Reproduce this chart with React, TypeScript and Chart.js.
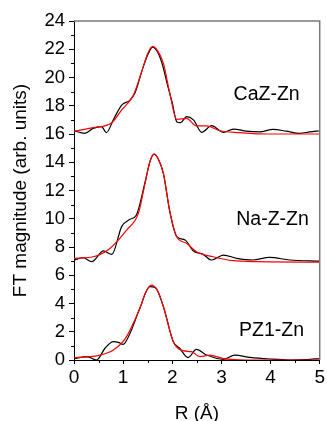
import React, { useEffect, useRef } from 'react';
import { Chart, registerables } from 'chart.js';

Chart.register(...registerables);

// CaZ-Zn
const cazExpX = [0, 0.22, 0.39, 0.56, 0.66, 0.8, 0.97, 1.14, 1.24, 1.41, 1.5, 1.6, 1.7, 1.8, 1.9, 2.0, 2.09, 2.17, 2.29, 2.43, 2.6, 2.8, 3.04, 3.24, 3.51, 3.78, 4.05, 4.32, 4.59, 4.8, 5.0];
const cazExpY = [16.23, 16.05, 16.4, 16.52, 16.1, 17.0, 18.05, 18.4, 18.9, 20.77, 21.6, 22.15, 21.8, 20.9, 19.5, 18.2, 16.87, 16.8, 17.23, 17.0, 16.12, 16.59, 16.12, 16.35, 16.2, 16.15, 16.33, 16.2, 16.05, 16.15, 16.23];
const cazFitX = [0, 0.39, 0.77, 0.97, 1.21, 1.41, 1.5, 1.6, 1.7, 1.82, 1.95, 2.09, 2.29, 2.49, 2.7, 2.97, 3.37, 3.92, 5];
const cazFitY = [16.2, 16.45, 16.8, 17.7, 18.76, 20.77, 21.7, 22.2, 21.9, 21.0, 18.88, 17.04, 17.1, 16.57, 16.57, 16.23, 16.1, 16.0, 16.0];

// Na-Z-Zn
const naExpX = [0, 0.19, 0.36, 0.6, 0.77, 0.97, 1.14, 1.27, 1.44, 1.55, 1.63, 1.72, 1.82, 1.95, 2.09, 2.26, 2.43, 2.63, 2.8, 3.04, 3.31, 3.64, 3.98, 4.39, 5];
const naExpY = [7.08, 7.24, 6.96, 7.72, 7.48, 9.44, 9.96, 10.27, 12.5, 14.1, 14.58, 14.2, 13.2, 10.5, 8.73, 8.5, 7.72, 7.48, 7.08, 7.43, 7.2, 7.08, 7.27, 7.08, 7.0];
const naFitX = [0, 0.39, 0.73, 1.07, 1.31, 1.44, 1.55, 1.63, 1.72, 1.82, 1.95, 2.09, 2.29, 2.49, 2.83, 3.24, 3.78, 5];
const naFitY = [7.2, 7.31, 7.9, 9.2, 10.38, 12.4, 14.1, 14.58, 14.2, 13.2, 10.5, 8.73, 8.26, 7.67, 7.31, 7.03, 6.96, 6.92];

// PZ1-Zn
const pzExpX = [0, 0.26, 0.46, 0.63, 0.8, 0.9, 1.0, 1.14, 1.34, 1.54, 1.65, 1.82, 2.02, 2.15, 2.32, 2.49, 2.7, 3.04, 3.27, 3.58, 3.98, 4.39, 4.73, 5];
const pzExpY = [0.07, 0.24, 0.0, 0.83, 1.3, 1.25, 1.1, 1.89, 3.66, 5.19, 5.14, 3.77, 1.3, 0.83, 0.17, 0.75, 0.35, 0.05, 0.35, 0.19, 0.07, 0.0, 0.03, 0.1];
const pzFitX = [0, 0.53, 0.8, 1.04, 1.34, 1.45, 1.57, 1.7, 1.82, 2.02, 2.22, 2.39, 2.56, 2.76, 3.04, 3.51, 5];
const pzFitY = [0.15, 0.35, 0.71, 1.49, 3.66, 4.7, 5.3, 4.9, 3.77, 1.3, 0.66, 0.59, 0.24, 0.35, 0.1, 0.0, 0.0];

const sampleLabels = ['CaZ-Zn', 'Na-Z-Zn', 'PZ1-Zn'];
const labelX = [3.92, 4.04, 4.02];
const labelY = [18.76, 9.91, 2.05];

const yTicks = [0, 2, 4, 6, 8, 10, 12, 14, 16, 18, 20, 22, 24];
const xTicks = [0, 1, 2, 3, 4, 5];

const FONT = 'Arial, "Liberation Sans", sans-serif';

const pts = (xs: number[], ys: number[]) => xs.map((x, i) => ({ x, y: ys[i] }));

const extrasPlugin = {
  id: 'extras',
  afterDraw(chart: any) {
    const { ctx, chartArea, scales } = chart;
    const xs = scales.x;
    const ys = scales.y;
    ctx.save();
    // top and right frame
    ctx.strokeStyle = '#7a7a7a';
    ctx.lineWidth = 1.5;
    ctx.beginPath();
    ctx.moveTo(chartArea.left, chartArea.top);
    ctx.lineTo(chartArea.right, chartArea.top);
    ctx.lineTo(chartArea.right, chartArea.bottom);
    ctx.stroke();
    // minor ticks
    ctx.strokeStyle = '#000';
    ctx.lineWidth = 1;
    ctx.beginPath();
    for (let v = 1; v < 24; v += 2) {
      const y = Math.round(ys.getPixelForValue(v)) + 0.5;
      ctx.moveTo(chartArea.left, y);
      ctx.lineTo(chartArea.left - 3, y);
    }
    for (let v = 0.5; v < 5; v += 1) {
      const x = Math.round(xs.getPixelForValue(v)) + 0.5;
      ctx.moveTo(x, chartArea.bottom);
      ctx.lineTo(x, chartArea.bottom + 3);
    }
    ctx.stroke();
    // sample labels
    ctx.fillStyle = '#000';
    ctx.font = `19.5px ${FONT}`;
    ctx.textAlign = 'center';
    ctx.textBaseline = 'middle';
    sampleLabels.forEach((t, i) => {
      ctx.fillText(t, xs.getPixelForValue(labelX[i]), ys.getPixelForValue(labelY[i]));
    });
    ctx.restore();
  },
};

export default function App() {
  const ref = useRef<HTMLCanvasElement | null>(null);
  useEffect(() => {
    document.body.style.margin = '0';
    const canvas = ref.current;
    if (!canvas) return;
    const line = (data: any, color: string, order: number) => ({
      data,
      borderColor: color,
      backgroundColor: color,
      borderWidth: 1.2,
      pointRadius: 0,
      showLine: true,
      fill: false,
      cubicInterpolationMode: 'monotone' as const,
      order,
    });
    const chart = new Chart(canvas, {
      type: 'scatter',
      data: {
        datasets: [
          line(pts(cazFitX, cazFitY), '#ff0000', 0),
          line(pts(naFitX, naFitY), '#ff0000', 0),
          line(pts(pzFitX, pzFitY), '#ff0000', 0),
          line(pts(cazExpX, cazExpY), '#000000', 1),
          line(pts(naExpX, naExpY), '#000000', 1),
          line(pts(pzExpX, pzExpY), '#000000', 1),
        ],
      },
      options: {
        responsive: false,
        animation: false,
        events: [],
        layout: { padding: { top: 21, right: 7, left: 0, bottom: 0 } },
        plugins: { legend: { display: false }, tooltip: { enabled: false } },
        scales: {
          x: {
            type: 'linear',
            min: 0,
            max: 5,
            afterBuildTicks: (s: any) => { s.ticks = xTicks.map((v) => ({ value: v })); },
            afterFit: (s: any) => { s.height = 61; },
            border: { display: true, color: '#000', width: 1 },
            grid: { display: true, drawOnChartArea: false, drawTicks: true, tickLength: 4, color: '#000' },
            ticks: { color: '#000', font: { family: FONT, size: 19 }, padding: 2, maxRotation: 0 },
            title: { display: true, text: 'R (Å)', color: '#000', font: { family: FONT, size: 19, lineHeight: 0.8 }, padding: { top: 0, bottom: 0 } },
          },
          y: {
            type: 'linear',
            min: 0,
            max: 24,
            afterBuildTicks: (s: any) => { s.ticks = yTicks.map((v) => ({ value: v })); },
            afterFit: (s: any) => { s.width = 74; },
            border: { display: true, color: '#000', width: 1 },
            grid: { display: true, drawOnChartArea: false, drawTicks: true, tickLength: 5, color: '#000' },
            ticks: { color: '#000', font: { family: FONT, size: 18.5 }, padding: 4 },
            title: { display: true, text: 'FT magnitude (arb. units)', color: '#000', font: { family: FONT, size: 19, lineHeight: 1 }, padding: { top: 11, bottom: 0 } },
          },
        },
      },
      plugins: [extrasPlugin],
    });
    return () => chart.destroy();
  }, []);
  return (
    <div style={{ width: 327, height: 421 }}>
      <canvas ref={ref} width={327} height={421} style={{ display: 'block' }} />
    </div>
  );
}
